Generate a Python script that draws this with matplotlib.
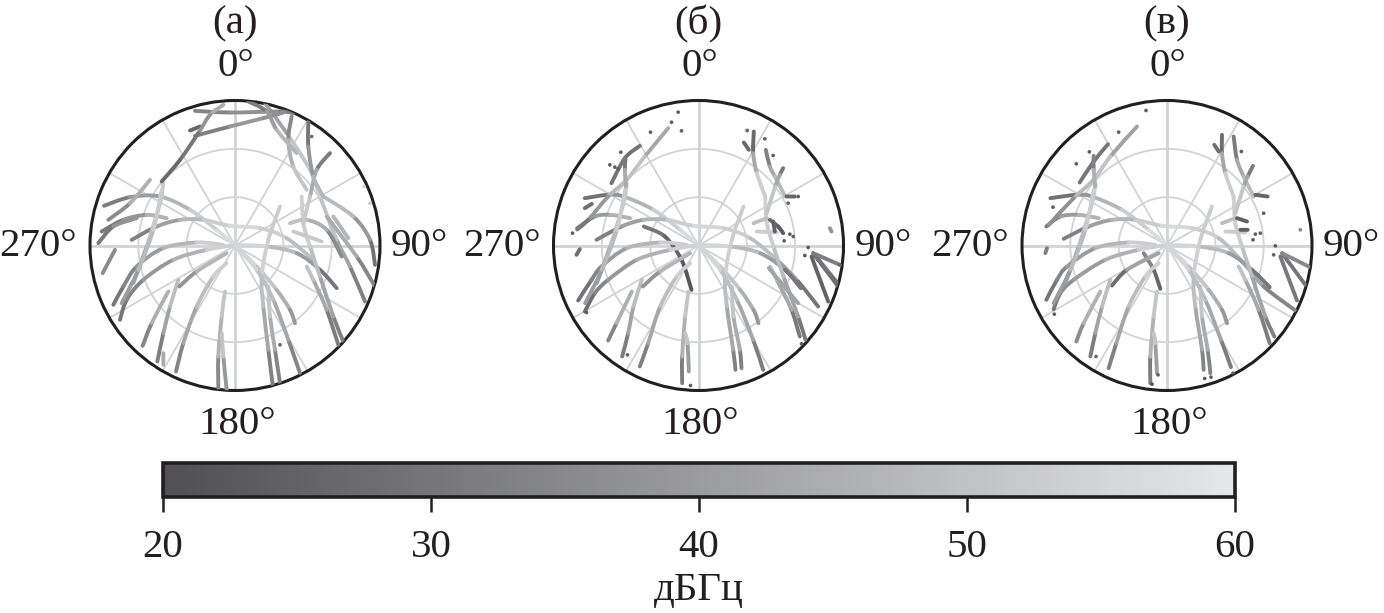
import numpy as np
import matplotlib
matplotlib.use("Agg")
from matplotlib import pyplot as plt
from matplotlib.cm import ScalarMappable
from matplotlib.collections import PathCollection
from matplotlib.colors import LinearSegmentedColormap, Normalize
from matplotlib.path import Path

plt.rcParams['font.family'] = ['Liberation Serif', 'DejaVu Serif']

# satellite tracks: (east, north, snr), horizon circle = 435
tracks_a = [
    [(-393,119,28),(-315,145,36),(-225,147,44),(-135,107,50),(-55,47,56),(0,0,58),(65,-63,54),(125,-133,48),(165,-193,42),(180,-233,36)],
    [(-400,42,28),(-335,77,34),(-265,92,42),(-205,82,50)],
    [(-410,7,28),(-365,57,34),(-295,82,42)],
    [(-380,77,32),(-315,127,40),(-255,197,50)],
    [(-310,17,28),(-235,57,38),(-165,77,44),(-95,77,50),(-15,59,56),(75,52,56),(155,22,52),(235,-43,46)],
    [(-365,-178,28),(-335,-123,32),(-295,-63,36),(-215,-8,44),(-115,9,50),(-35,2,56)],
    [(-345,-223,28),(-325,-163,32),(-275,-103,36),(-185,-43,42),(-85,-13,50),(0,0,58),(95,-3,52),(185,-23,44),(255,-73,36),(305,-128,24)],
    [(-305,-113,36),(-265,-3,48),(-225,127,52),(-215,187,52)],
    [(-340,-173,36),(-290,-73,44),(-245,47,52),(-220,167,54)],
    [(-277,-301,28),(-250,-233,40),(-200,-138,50)],
    [(-233,-348,28),(-215,-263,38),(-195,-183,46),(-170,-103,52)],
    [(-177,-378,28),(-155,-293,40),(-115,-183,46),(-65,-93,52),(-25,-53,56)],
    [(-167,-123,34),(-115,-78,42),(-25,-23,52)],
    [(-50,-428,26),(-50,-333,44),(-40,-213,48),(-30,-138,54)],
    [(-25,-433,28),(-35,-333,50),(-40,-263,52)],
    [(113,-418,26),(100,-313,40),(85,-183,46),(80,-93,52),(100,17,56),(135,117,50)],
    [(135,-413,28),(120,-313,40),(105,-213,48),(100,-123,54)],
    [(195,-383,28),(160,-283,40),(115,-163,46),(65,-73,52),(0,0,58)],
    [(310,-298,26),(275,-193,38),(235,-103,48),(215,-63,52)],
    [(325,-288,28),(295,-213,38),(255,-93,46),(225,-3,52),(205,67,54),(200,147,54)],
    [(420,-58,24),(405,17,34),(355,87,44),(265,147,52)],
    [(390,-168,28),(345,-63,38),(305,17,46),(255,147,54),(225,227,54),(155,337,48),(90,427,36)],
    [(420,-123,30),(365,-33,38),(275,87,50)],
    [(320,-33,30),(275,47,42),(215,77,48),(165,67,52)],
    [(340,22,44),(295,87,50)],
    [(260,12,50),(175,42,54)],
    [(285,277,26),(245,227,38),(225,147,50),(205,67,54)],
    [(220,372,26),(220,297,34),(235,207,44),(265,147,50)],
    [(170,387,30),(160,317,40),(175,237,50),(215,167,52)],
    [(-120,404,30),(-15,399,38),(135,402,36),(175,397,30)],
    [(-120,329,28),(-15,357,38),(85,382,40),(145,399,34)],
    [(-135,345,24),(-105,357,28)],
    [(-35,422,45),(-75,392,44),(-110,337,32),(-165,257,28),(-220,192,26)],
    [(40,432,28),(95,402,36),(125,347,44),(185,277,50)],
    [(-397,-83,28),(-360,-13,44)],
    [(-215,-358,40),(-215,-323,48)],
]
dots_a = [(135,-298,26),(405,127,52),(387,177,54),(230,327,28)]

tracks_b = [
    [(-164,57,32),(-101,27,28),(-51,-43,24),(-21,-133,20)],
    [(-341,142,26),(-271,152,32),(-225,147,44),(-135,107,50),(-55,47,56),(0,0,58),(65,-63,54),(125,-133,48),(165,-193,42),(180,-233,36)],
    [(-341,112,26),(-320,125,30)],
    [(-364,52,28),(-311,87,38),(-265,92,42),(-205,82,50)],
    [(-366,-28,26),(-356,-11,30)],
    [(-306,17,28),(-231,57,38),(-165,77,44),(-95,77,50),(-15,59,56),(75,52,56),(155,22,52),(235,-43,46),(299,-108,36),(359,-183,24)],
    [(-361,-165,26),(-321,-103,32),(-291,-63,36),(-215,-8,44),(-115,9,50),(-35,2,56)],
    [(-341,-198,24),(-311,-143,32),(-271,-103,36),(-185,-43,42),(-85,-13,50),(0,0,58),(95,-3,52),(185,-23,44),(259,-73,36),(307,-128,24)],
    [(-305,-113,36),(-265,-3,48),(-225,127,52),(-215,187,52)],
    [(-340,-173,36),(-290,-73,44),(-245,47,52),(-220,167,54)],
    [(-271,-285,28),(-246,-233,40),(-200,-138,50)],
    [(-229,-333,26),(-211,-263,38),(-195,-183,46),(-170,-103,52)],
    [(-176,-363,26),(-151,-293,40),(-115,-183,46),(-65,-93,52),(-25,-53,56)],
    [(-167,-123,34),(-115,-78,42),(-25,-23,52)],
    [(-49,-413,20),(-49,-333,44),(-40,-213,48),(-30,-138,54)],
    [(-29,-378,30),(-33,-293,50),(-40,-263,52)],
    [(111,-373,26),(104,-313,40),(85,-183,46),(80,-93,52),(100,17,56),(135,117,50)],
    [(129,-368,26),(124,-313,40),(105,-213,48),(100,-123,54)],
    [(194,-373,24),(164,-283,40),(115,-163,46),(65,-73,52),(0,0,58)],
    [(304,-273,24),(279,-193,38),(235,-103,48),(215,-63,52)],
    [(321,-283,24),(299,-213,38),(255,-93,46),(225,-3,52),(205,67,54),(200,147,54)],
    [(211,-68,40),(299,-173,44)],
    [(339,-33,22),(389,-168,28)],
    [(344,-23,24),(419,-123,30)],
    [(350,-30,26),(415,-110,32)],
    [(344,-23,24),(424,-58,40)],
    [(394,52,40),(399,42,36)],
    [(165,67,50),(205,82,48)],
    [(175,42,54),(235,39,52)],
    [(-91,352,38),(-161,267,48),(-216,197,52),(-271,147,44),(-331,77,34),(-364,48,28)],
    [(-176,299,26),(-221,262,32),(-261,187,28)],
    [(-219,262,26),(-221,227,36),(-218,177,52)],
    [(166,342,20),(164,277,34),(175,217,52),(200,147,54)],
    [(136,309,24),(151,287,30)],
    [(202,287,26),(214,237,40),(229,207,46),(260,147,50)],
    [(254,232,24),(244,212,38),(230,177,48),(205,97,54)],
    [(264,147,30),(289,147,24)],
    [(214,77,30),(239,57,24),(254,37,22)],
    [(224,72,26),(229,42,24)],
]
dots_b = [(-61,400,24),(-81,370,24),(-51,344,24),(-144,340,24),(-233,280,24),(-266,242,24),
          (-251,235,24),(-241,230,24),(-378,37,24),(-336,-201,24),(-213,-328,26),(-24,-420,24),
          (146,345,24),(199,320,24),(224,270,24),(299,147,24),(269,127,26),(284,27,24),
          (257,14,24),(274,34,24),(329,-6,24),(319,-30,22),(424,-58,26),(309,-295,24)]

tracks_c = [
    [(-70,-23,38),(-40,-73,30),(-20,-130,22)],
    [(-165,-120,24),(-120,-73,32),(-25,-23,52)],
    [(-350,142,26),(-270,152,32),(-225,147,44),(-135,107,50),(-55,47,56),(0,0,58),(65,-63,54),(125,-133,48),(165,-193,42),(180,-233,36)],
    [(-362,57,26),(-320,87,38),(-265,92,42),(-205,82,50)],
    [(-365,-23,30),(-360,-8,36)],
    [(-310,20,28),(-235,57,38),(-165,77,44),(-95,77,50),(-15,59,56),(75,52,56),(155,22,52),(230,-53,46),(290,-123,40),(385,-195,28)],
    [(-362,-163,28),(-330,-103,32),(-300,-63,36),(-215,-8,44),(-115,9,50),(-35,2,56)],
    [(-340,-191,26),(-320,-143,34),(-280,-103,38),(-185,-43,42),(-85,-13,50),(0,0,58),(95,-3,52),(185,-23,44),(255,-73,36),(308,-125,24)],
    [(-305,-113,36),(-265,-3,48),(-225,127,52),(-215,187,52)],
    [(-340,-173,36),(-290,-73,44),(-245,47,52),(-220,167,54)],
    [(-272,-288,30),(-250,-233,42),(-200,-138,50)],
    [(-230,-333,26),(-215,-263,38),(-195,-183,46),(-170,-103,52)],
    [(-175,-368,26),(-152,-293,40),(-115,-183,46),(-65,-93,52),(-25,-53,56)],
    [(-50,-413,20),(-50,-333,44),(-40,-213,48),(-30,-138,54)],
    [(-30,-383,32),(-35,-293,50),(-40,-263,52)],
    [(110,-373,28),(105,-313,40),(85,-183,46),(80,-93,52),(100,17,56),(135,117,50)],
    [(130,-383,28),(122,-313,40),(105,-213,48),(100,-123,54)],
    [(192,-365,24),(162,-283,40),(115,-163,46),(65,-73,52),(0,0,58)],
    [(308,-293,26),(275,-193,38),(235,-103,48),(215,-63,52)],
    [(322,-273,28),(295,-213,38),(255,-93,46),(225,-3,52),(205,67,54),(200,147,54)],
    [(390,-165,36),(340,-33,26)],
    [(345,-23,26),(415,-118,34)],
    [(345,-23,26),(425,-63,44)],
    [(165,67,50),(205,82,48)],
    [(175,42,54),(235,39,52)],
    [(-90,357,36),(-170,267,48),(-220,198,52),(-280,142,44),(-355,62,30)],
    [(-177,304,28),(-220,252,32),(-262,189,28)],
    [(-220,269,28),(-220,227,38),(-215,177,52)],
    [(165,332,22),(165,277,34),(175,217,52),(200,147,54)],
    [(142,302,26),(155,282,30)],
    [(200,327,24),(210,257,40),(230,207,46),(260,147,50)],
    [(258,239,26),(242,207,38),(230,177,48),(205,97,54)],
    [(265,152,28),(302,147,24)],
    [(210,82,24),(240,72,24)],
    [(220,47,24),(242,47,24)],
]
dots_c = [(-63,405,24),(-145,340,24),(-233,281,24),(-272,245,24),(-342,115,24),(-338,-206,24),
          (-213,-333,26),(-27,-388,24),(-45,-416,22),(113,-399,24),(132,-395,24),(223,282,24),
          (290,97,24),(280,37,24),(265,34,24),(258,17,24),(325,-1,24),(320,-28,24),(400,47,34),
          (198,-383,24)]

panel_titles = ['(а)', '(б)', '(в)']
panel_tracks = [tracks_a, tracks_b, tracks_c]
panel_dots = [dots_a, dots_b, dots_c]
cbar_ticks = [20, 30, 40, 50, 60]

W, H = 1384, 613
HORIZON = 435.0
INK = '#231f20'
centres = [235, 698.5, 1167]
cmap = LinearSegmentedColormap.from_list('snr', ['#505052', '#e6e7e8'])
norm = Normalize(20, 60)


def to_polar(xy):
    # east/north offsets -> azimuth [rad], zenith angle [deg]
    xy = np.asarray(xy, dtype=float)
    return np.column_stack([np.arctan2(xy[:, 0], xy[:, 1]), np.hypot(xy[:, 0], xy[:, 1]) / HORIZON * 90])


def track_paths(trk):
    # one bezier piece per read segment, so the line rounds off through the read vertices
    pts = np.array(trk, dtype=float)
    xy, s = pts[:, :2], pts[:, 2]
    paths, vals = [], []
    for i in range(len(xy) - 1):
        p0, p1, p2, p3 = xy[max(i - 1, 0)], xy[i], xy[i + 1], xy[min(i + 2, len(xy) - 1)]
        verts = to_polar([p1, p1 + (p2 - p0) / 6, p2 - (p3 - p1) / 6, p2])
        paths.append(Path(verts, [Path.MOVETO, Path.CURVE4, Path.CURVE4, Path.CURVE4]))
        vals.append(0.5 * (s[i] + s[i + 1]))
    return paths, vals


fig = plt.figure(figsize=(W / 100, H / 100), dpi=100)

for cx, title, tracks, dots in zip(centres, panel_titles, panel_tracks, panel_dots):
    ax = fig.add_axes([(cx - 145) / W, (H - 245.5 - 145) / H, 290 / W, 290 / H], projection='polar')
    ax.set_theta_zero_location('N')
    ax.set_theta_direction(-1)

    paths, vals = [], []
    for trk in tracks:
        p, v = track_paths(trk)
        paths += p
        vals += v
    pc = PathCollection(paths, facecolors='none', edgecolors=cmap(norm(vals)), linewidths=2.8,
                        capstyle='round', transform=ax.transData, zorder=3)
    ax.add_collection(pc, autolim=False)

    d = np.array(dots, dtype=float)
    tr = to_polar(d[:, :2])
    ax.scatter(tr[:, 0], tr[:, 1], c=d[:, 2], cmap=cmap, norm=norm, s=7, linewidths=0, zorder=3)

    ax.set_rlim(0, 90)
    ax.set_rticks([30, 60])
    ax.set_yticklabels([])
    az = np.arange(0, 360, 30)
    ax.set_xticks(np.radians(az))
    ax.set_xticklabels([])
    ax.tick_params(axis='x', length=0)
    ax.grid(True, color='#d2d3d5', lw=1.3)
    for a, gl in zip(az, ax.xaxis.get_gridlines()):
        if a % 90 == 0:
            gl.set_linewidth(2.0)
    ax.spines['polar'].set_linewidth(2.2)
    ax.spines['polar'].set_color(INK)

    fig.text(cx / W, 1 - 24 / H, title, size=29.5, ha='center', va='center', color=INK)
    fig.text((cx + 1) / W, 1 - 67 / H, '0°', size=29.5, ha='center', va='center', color=INK)
    fig.text((cx + 2) / W, 1 - 424 / H, '180°', size=29.5, ha='center', va='center', color=INK)
    fig.text((cx - 158) / W, 1 - 246 / H, '270°', size=29.5, ha='right', va='center', color=INK)
    fig.text((cx + 156) / W, 1 - 246 / H, '90°', size=29.5, ha='left', va='center', color=INK)

cax = fig.add_axes([163 / W, (H - 497) / H, 1072 / W, 34 / H])
cb = fig.colorbar(ScalarMappable(norm=norm, cmap=cmap), cax=cax, orientation='horizontal', ticks=cbar_ticks)
cb.outline.set_linewidth(2.6)
cb.outline.set_edgecolor(INK)
cax.tick_params(axis='x', length=11, width=1.8, color=INK, labelsize=29.5, labelcolor=INK, pad=12)
cb.set_label('дБГц', size=29.5, color=INK, labelpad=4)

fig.savefig('out.png', dpi=100)
